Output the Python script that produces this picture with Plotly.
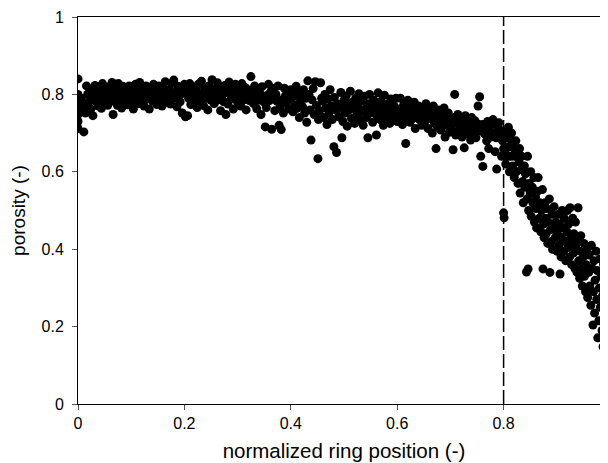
import plotly.graph_objects as go

# ---- data ----
pos_a = [0.000, 0.000, 0.000, 0.000, 0.000, 0.000, 0.000, 0.004, 0.006, 0.011,
         0.012, 0.014, 0.016, 0.018, 0.020, 0.022, 0.024, 0.026, 0.028, 0.030,
         0.032, 0.034, 0.036, 0.038, 0.040, 0.042, 0.044, 0.046, 0.048, 0.050,
         0.052, 0.054, 0.056, 0.058, 0.060, 0.062, 0.064, 0.066, 0.068, 0.070,
         0.072, 0.074, 0.076, 0.078, 0.080, 0.082, 0.084, 0.086, 0.088, 0.090,
         0.092, 0.094, 0.096, 0.098, 0.100, 0.102, 0.104, 0.106, 0.108, 0.110,
         0.112, 0.114, 0.116, 0.118, 0.120, 0.122, 0.124, 0.126, 0.128, 0.130,
         0.132, 0.134, 0.136, 0.138, 0.140, 0.142, 0.144, 0.146, 0.148, 0.150,
         0.152, 0.154, 0.156, 0.158, 0.160, 0.162, 0.164, 0.166, 0.168, 0.170,
         0.172, 0.174, 0.176, 0.178, 0.180, 0.182, 0.184, 0.186, 0.188, 0.190,
         0.192, 0.194, 0.196, 0.198, 0.200]
por_a = [0.840, 0.800, 0.782, 0.766, 0.748, 0.730, 0.712, 0.760, 0.790, 0.703,
         0.772, 0.752, 0.822, 0.800, 0.780, 0.812, 0.762, 0.792, 0.745, 0.803,
         0.823, 0.781, 0.801, 0.770, 0.812, 0.790, 0.764, 0.828, 0.800, 0.782,
         0.811, 0.793, 0.772, 0.820, 0.802, 0.783, 0.831, 0.748, 0.805, 0.790,
         0.814, 0.772, 0.828, 0.793, 0.803, 0.765, 0.821, 0.782, 0.800, 0.812,
         0.791, 0.773, 0.822, 0.801, 0.781, 0.813, 0.762, 0.803, 0.826, 0.792,
         0.810, 0.776, 0.831, 0.796, 0.784, 0.815, 0.770, 0.805, 0.822, 0.788,
         0.800, 0.762, 0.818, 0.806, 0.783, 0.826, 0.795, 0.812, 0.774, 0.800,
         0.822, 0.787, 0.808, 0.770, 0.815, 0.797, 0.833, 0.780, 0.806, 0.792,
         0.812, 0.775, 0.828, 0.800, 0.837, 0.790, 0.806, 0.768, 0.821, 0.798,
         0.781, 0.813, 0.752, 0.803, 0.826]

pos_b = [0.202, 0.204, 0.206, 0.208, 0.210, 0.212, 0.214, 0.216, 0.218, 0.220,
         0.222, 0.224, 0.226, 0.228, 0.230, 0.232, 0.234, 0.236, 0.238, 0.240,
         0.242, 0.244, 0.246, 0.248, 0.250, 0.252, 0.254, 0.256, 0.258, 0.260,
         0.262, 0.264, 0.266, 0.268, 0.270, 0.272, 0.274, 0.276, 0.278, 0.280,
         0.282, 0.284, 0.286, 0.288, 0.290, 0.292, 0.294, 0.296, 0.298, 0.300,
         0.302, 0.304, 0.306, 0.308, 0.310, 0.312, 0.314, 0.316, 0.318, 0.320,
         0.322, 0.325, 0.326, 0.328, 0.330, 0.332, 0.334, 0.336, 0.338, 0.340,
         0.342, 0.344, 0.346, 0.348, 0.350, 0.352, 0.354, 0.356, 0.358, 0.360,
         0.362, 0.364, 0.366, 0.368, 0.370, 0.372, 0.374, 0.376, 0.378, 0.380,
         0.382, 0.384, 0.386, 0.388, 0.390, 0.392, 0.394, 0.396, 0.398, 0.400]
por_b = [0.742, 0.811, 0.745, 0.790, 0.828, 0.774, 0.805, 0.818, 0.782, 0.798,
         0.812, 0.766, 0.826, 0.795, 0.780, 0.834, 0.802, 0.771, 0.815, 0.790,
         0.808, 0.760, 0.822, 0.797, 0.785, 0.838, 0.801, 0.776, 0.814, 0.792,
         0.830, 0.786, 0.806, 0.758, 0.818, 0.799, 0.781, 0.823, 0.748, 0.810,
         0.775, 0.832, 0.801, 0.789, 0.815, 0.762, 0.806, 0.826, 0.792, 0.780,
         0.812, 0.796, 0.770, 0.828, 0.803, 0.786, 0.818, 0.760, 0.799, 0.812,
         0.784, 0.846, 0.808, 0.791, 0.776, 0.822, 0.796, 0.763, 0.811, 0.785,
         0.803, 0.748, 0.820, 0.793, 0.780, 0.716, 0.766, 0.798, 0.826, 0.784,
         0.806, 0.710, 0.790, 0.815, 0.758, 0.800, 0.782, 0.822, 0.720, 0.768,
         0.709, 0.786, 0.752, 0.816, 0.797, 0.778, 0.805, 0.763, 0.790, 0.812]

pos_c = [0.402, 0.404, 0.406, 0.408, 0.410, 0.412, 0.414, 0.416, 0.418, 0.420,
         0.422, 0.424, 0.426, 0.428, 0.430, 0.432, 0.434, 0.436, 0.438, 0.440,
         0.442, 0.444, 0.446, 0.448, 0.451, 0.452, 0.454, 0.456, 0.458, 0.460,
         0.462, 0.464, 0.466, 0.468, 0.470, 0.472, 0.474, 0.476, 0.478, 0.481,
         0.482, 0.486, 0.486, 0.488, 0.490, 0.496, 0.494, 0.496, 0.498, 0.500,
         0.502, 0.504, 0.506, 0.508, 0.510, 0.512, 0.514, 0.516, 0.518, 0.520,
         0.522, 0.524, 0.526, 0.528, 0.530, 0.532, 0.534, 0.536, 0.538, 0.540,
         0.542, 0.545, 0.546, 0.548, 0.550, 0.552, 0.554, 0.556, 0.561, 0.560,
         0.562, 0.564, 0.566, 0.568, 0.570, 0.572, 0.574, 0.576, 0.578, 0.580,
         0.582, 0.584, 0.586, 0.588, 0.590, 0.592, 0.594, 0.596, 0.598, 0.600]
por_c = [0.790, 0.755, 0.808, 0.772, 0.821, 0.764, 0.796, 0.740, 0.781, 0.805,
         0.768, 0.812, 0.752, 0.790, 0.728, 0.835, 0.800, 0.760, 0.682, 0.786,
         0.815, 0.748, 0.833, 0.771, 0.634, 0.735, 0.758, 0.830, 0.790, 0.782,
         0.740, 0.800, 0.765, 0.722, 0.788, 0.752, 0.812, 0.770, 0.735, 0.665,
         0.792, 0.650, 0.758, 0.775, 0.742, 0.688, 0.805, 0.768, 0.730, 0.785,
         0.752, 0.796, 0.718, 0.775, 0.760, 0.808, 0.738, 0.780, 0.765, 0.725,
         0.790, 0.748, 0.770, 0.802, 0.735, 0.782, 0.756, 0.720, 0.795, 0.762,
         0.740, 0.688, 0.776, 0.800, 0.752, 0.768, 0.728, 0.785, 0.695, 0.760,
         0.745, 0.804, 0.770, 0.735, 0.782, 0.755, 0.720, 0.798, 0.762, 0.740,
         0.775, 0.750, 0.725, 0.788, 0.760, 0.738, 0.770, 0.748, 0.790, 0.730]

pos_d = [0.602, 0.604, 0.606, 0.608, 0.610, 0.612, 0.614, 0.616, 0.616, 0.620,
         0.622, 0.624, 0.626, 0.628, 0.630, 0.632, 0.634, 0.636, 0.638, 0.640,
         0.642, 0.644, 0.646, 0.648, 0.650, 0.652, 0.654, 0.656, 0.658, 0.660,
         0.662, 0.664, 0.666, 0.668, 0.670, 0.673, 0.674, 0.676, 0.678, 0.680,
         0.682, 0.684, 0.686, 0.688, 0.690, 0.692, 0.694, 0.696, 0.698, 0.700,
         0.702, 0.705, 0.708, 0.708, 0.710, 0.712, 0.714, 0.716, 0.718, 0.720,
         0.722, 0.724, 0.726, 0.728, 0.730, 0.732, 0.734, 0.736, 0.738, 0.740,
         0.742, 0.744, 0.746, 0.748, 0.750, 0.752, 0.754, 0.755, 0.757, 0.760,
         0.761, 0.764, 0.766, 0.768, 0.770, 0.772, 0.774, 0.776, 0.778, 0.780,
         0.782, 0.784, 0.786, 0.787, 0.790, 0.791, 0.794, 0.796, 0.798, 0.800]
por_d = [0.762, 0.735, 0.790, 0.748, 0.722, 0.772, 0.740, 0.755, 0.673, 0.785,
         0.745, 0.728, 0.768, 0.752, 0.738, 0.780, 0.712, 0.758, 0.742, 0.770,
         0.735, 0.755, 0.720, 0.765, 0.748, 0.730, 0.776, 0.742, 0.712, 0.760,
         0.738, 0.752, 0.700, 0.770, 0.725, 0.660, 0.745, 0.715, 0.760, 0.732,
         0.708, 0.748, 0.728, 0.765, 0.690, 0.738, 0.720, 0.752, 0.702, 0.732,
         0.712, 0.657, 0.800, 0.740, 0.695, 0.725, 0.748, 0.705, 0.735, 0.716,
         0.690, 0.728, 0.662, 0.745, 0.710, 0.698, 0.735, 0.720, 0.682, 0.740,
         0.715, 0.700, 0.732, 0.688, 0.725, 0.770, 0.706, 0.794, 0.640, 0.722,
         0.614, 0.698, 0.715, 0.680, 0.730, 0.660, 0.705, 0.690, 0.722, 0.735,
         0.700, 0.652, 0.688, 0.607, 0.715, 0.727, 0.695, 0.640, 0.680, 0.660]

pos_e = [0.800, 0.801, 0.801, 0.803, 0.804, 0.806, 0.807, 0.809, 0.810,
         0.811, 0.812, 0.814, 0.815, 0.817, 0.818, 0.820,
         0.821, 0.823, 0.824, 0.826, 0.827, 0.829, 0.830,
         0.831, 0.833, 0.834, 0.836, 0.837, 0.839, 0.840,
         0.841, 0.843, 0.846, 0.844, 0.845, 0.847, 0.848, 0.850,
         0.851, 0.852, 0.854, 0.855, 0.857, 0.858, 0.860,
         0.861, 0.862, 0.864, 0.865, 0.867, 0.868, 0.870,
         0.871, 0.873, 0.874, 0.875, 0.876, 0.878, 0.879, 0.880,
         0.881, 0.883, 0.884, 0.886, 0.887, 0.888, 0.890,
         0.891, 0.892, 0.894, 0.895, 0.897, 0.898, 0.900,
         0.901, 0.903, 0.904, 0.905, 0.906, 0.908, 0.909, 0.910,
         0.911, 0.913, 0.914, 0.916, 0.917, 0.919, 0.920,
         0.921, 0.922, 0.924, 0.925, 0.926, 0.928, 0.929, 0.930,
         0.931, 0.932, 0.934, 0.935, 0.936, 0.938, 0.939, 0.940,
         0.941, 0.943, 0.944, 0.945, 0.947, 0.948, 0.950,
         0.951, 0.952, 0.954, 0.955, 0.957, 0.958, 0.960,
         0.961, 0.962, 0.964, 0.965, 0.966, 0.968, 0.969, 0.970,
         0.971, 0.972, 0.974, 0.975, 0.976, 0.977, 0.979, 0.980,
         0.981, 0.982, 0.983, 0.985, 0.986, 0.987, 0.988, 0.989, 0.990,
         0.991, 0.992, 0.993, 0.994, 0.995, 0.996, 0.997, 0.998, 0.999, 1.000]
por_e = [0.494, 0.481, 0.705, 0.655, 0.620, 0.690, 0.640, 0.715, 0.665,
         0.600, 0.685, 0.640, 0.700, 0.615, 0.662, 0.585,
         0.640, 0.680, 0.600, 0.655, 0.570, 0.625, 0.660,
         0.545, 0.605, 0.640, 0.575, 0.520, 0.615, 0.560,
         0.595, 0.341, 0.349, 0.530, 0.640, 0.500, 0.570, 0.545,
         0.600, 0.485, 0.560, 0.520, 0.585, 0.470, 0.535,
         0.505, 0.455, 0.550, 0.585, 0.480, 0.520, 0.445,
         0.500, 0.554, 0.349, 0.465, 0.430, 0.520, 0.480, 0.440,
         0.505, 0.415, 0.470, 0.530, 0.340, 0.450, 0.420,
         0.490, 0.400, 0.455, 0.510, 0.430, 0.470, 0.395,
         0.445, 0.490, 0.410, 0.465, 0.336, 0.380, 0.430, 0.500,
         0.455, 0.395, 0.480, 0.420, 0.370, 0.445, 0.500,
         0.405, 0.465, 0.380, 0.507, 0.430, 0.360, 0.415, 0.480,
         0.390, 0.440, 0.350, 0.470, 0.405, 0.340, 0.420, 0.507,
         0.370, 0.325, 0.395, 0.435, 0.350, 0.305, 0.380,
         0.415, 0.330, 0.290, 0.360, 0.400, 0.275, 0.340,
         0.385, 0.305, 0.255, 0.410, 0.350, 0.204, 0.290, 0.370,
         0.235, 0.320, 0.395, 0.270, 0.345, 0.171, 0.215, 0.300,
         0.375, 0.250, 0.330, 0.190, 0.280, 0.148, 0.360, 0.225, 0.122,
         0.300, 0.385, 0.200, 0.260, 0.340, 0.165, 0.370, 0.240, 0.310, 0.195]

x_tick_vals = [0, 0.2, 0.4, 0.6, 0.8, 1.0]
x_tick_text = ["0", "0.2", "0.4", "0.6", "0.8", "1"]
y_tick_vals = [0, 0.2, 0.4, 0.6, 0.8, 1.0]
y_tick_text = ["0", "0.2", "0.4", "0.6", "0.8", "1"]
boundary_position = 0.8

ring_position = pos_a + pos_b + pos_c + pos_d + pos_e
porosity = por_a + por_b + por_c + por_d + por_e

FONT = "Arial, 'Liberation Sans', Helvetica, sans-serif"

fig = go.Figure()
fig.add_trace(go.Scatter(
    x=ring_position, y=porosity, mode="markers",
    marker=dict(size=9, color="black", line=dict(width=0)),
    showlegend=False, hoverinfo="skip",
))
fig.add_trace(go.Scatter(
    x=[boundary_position, boundary_position], y=[0, 1], mode="lines",
    line=dict(color="black", width=1.5, dash="14px,4px"),
    showlegend=False, hoverinfo="skip",
))

# page body has an 8px margin: compensate so the plot area sits at x 78..610, y 17..404
fig.update_layout(
    width=608, height=463,
    margin=dict(l=70, r=6, t=9, b=67, autoexpand=False),
    paper_bgcolor="white", plot_bgcolor="white",
    font=dict(family=FONT, color="black", size=16),
    xaxis=dict(
        range=[0, 1], showgrid=False, zeroline=False, automargin=False,
        showline=True, linecolor="black", linewidth=1, mirror=True,
        ticks="outside", ticklen=5, tickcolor="#555555", tickwidth=1,
        tickvals=x_tick_vals, ticktext=x_tick_text,
        tickfont=dict(size=16),
        title=dict(text="normalized ring position (-)", font=dict(size=20.5), standoff=12),
    ),
    yaxis=dict(
        range=[0, 1], showgrid=False, zeroline=False, automargin=False,
        showline=True, linecolor="black", linewidth=1, mirror=True,
        ticks="outside", ticklen=5, tickcolor="#555555", tickwidth=1,
        tickvals=y_tick_vals, ticktext=y_tick_text,
        tickfont=dict(size=16), ticklabelstandoff=5,
        title=dict(text="porosity (-)", font=dict(size=19), standoff=12),
    ),
)

fig.write_html("out.html")
